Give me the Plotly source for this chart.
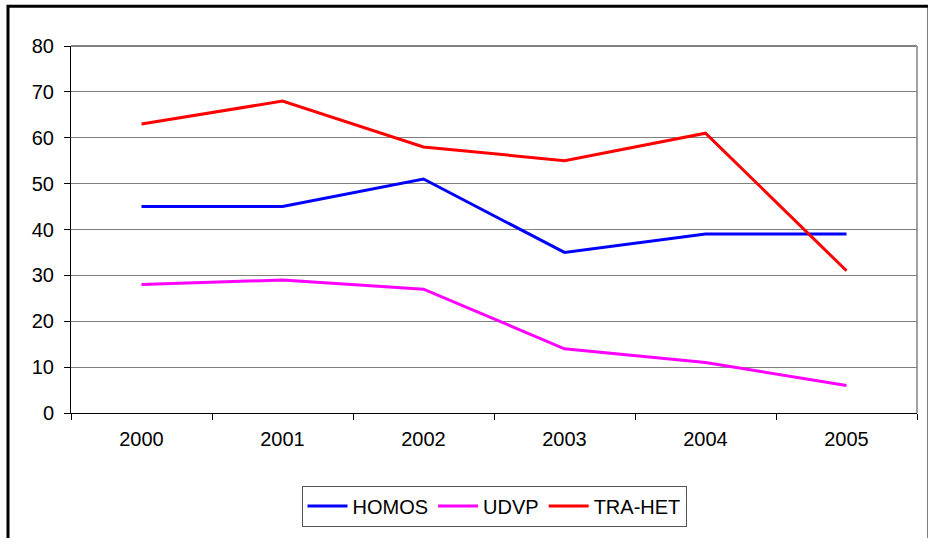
import plotly.graph_objects as go

years = ["2000", "2001", "2002", "2003", "2004", "2005"]
homos = [45, 45, 51, 35, 39, 39]
udvp = [28, 29, 27, 14, 11, 6]
tra_het = [63, 68, 58, 55, 61, 31]

series = [("HOMOS", homos, "#0000FF"), ("UDVP", udvp, "#FF00FF"), ("TRA-HET", tra_het, "#FF0000")]

fig = go.Figure()
for name, vals, col in series:
    fig.add_trace(go.Scatter(x=years, y=vals, name=name, mode="lines",
                             line=dict(color=col, width=3)))

W, H = 928, 538
L, R, T, B = 71, 11, 46, 123
pw, ph = W - L - R, H - T - B

def px_x(x):
    return (x - L) / pw

def px_y(y):
    return (H - B - y) / ph

fig.update_layout(
    width=W, height=H,
    margin=dict(l=L, r=R, t=T, b=B),
    paper_bgcolor="white", plot_bgcolor="white",
    font=dict(family="Liberation Sans, Arial, sans-serif", size=20, color="black"),
    showlegend=True,
    legend=dict(orientation="h", x=0.5, xanchor="center", y=px_y(488), yanchor="top",
                bordercolor="#555555", borderwidth=1, bgcolor="white",
                font=dict(size=20), itemwidth=40, traceorder="normal"),
    xaxis=dict(type="category", range=[-0.5, 5.5], showgrid=False, tickson="boundaries",
               ticks="outside", ticklen=6, tickcolor="black", showline=True,
               linecolor="black", linewidth=1, zeroline=False, ticklabelstandoff=8),
    yaxis=dict(range=[0, 80], dtick=10, showgrid=True, gridcolor="#808080", gridwidth=1,
               ticks="outside", ticklen=6, tickcolor="black", showline=True,
               linecolor="black", linewidth=1, zeroline=False, ticklabelstandoff=6),
    shapes=[
        dict(type="line", xref="paper", yref="paper", x0=0, x1=1, y0=1, y1=1,
             line=dict(color="#808080", width=2), layer="below"),
        dict(type="line", xref="paper", yref="paper", x0=1, x1=1, y0=0, y1=1,
             line=dict(color="#A0A0A0", width=2), layer="below"),
        dict(type="rect", xref="paper", yref="paper", x0=px_x(8), x1=px_x(929),
             y0=px_y(545), y1=px_y(6), line=dict(color="black", width=3),
             fillcolor="rgba(0,0,0,0)", layer="above"),
    ],
)

fig.write_html("out.html", config={"displayModeBar": False},
               post_script="document.body.style.margin='0';")
